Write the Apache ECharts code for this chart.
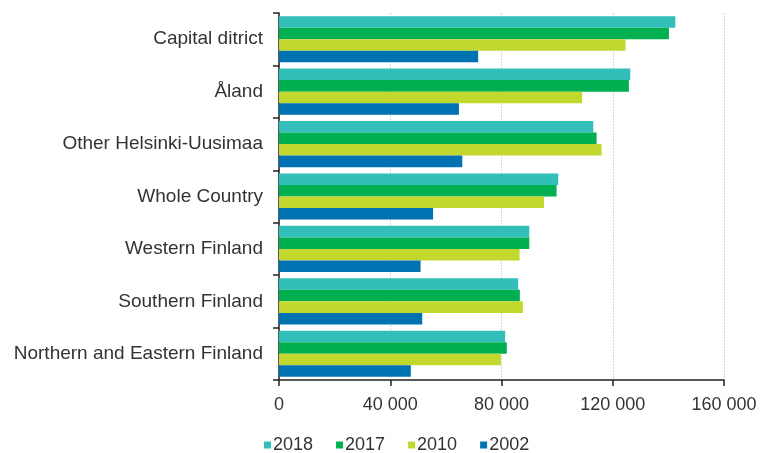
<!DOCTYPE html>
<html>
<head>
<meta charset="utf-8">
<script src="https://cdn.jsdelivr.net/npm/echarts@6/dist/echarts.min.js"></script>
<style>
  html, body { margin: 0; padding: 0; background: #fff; }
  #chart { width: 762px; height: 453px; }
</style>
</head>
<body>
<div id="chart"></div>
<script>
// Catégories (haut -> bas)
const regions = [
  'Capital ditrict',
  'Åland',
  'Other Helsinki-Uusimaa',
  'Whole Country',
  'Western Finland',
  'Southern Finland',
  'Northern and Eastern Finland'
];

const years = ['2018', '2017', '2010', '2002'];

const v2018 = [142500, 126300, 113000, 100400, 90000, 86000, 81300];
const v2017 = [140200, 125800, 114200, 99800, 90000, 86600, 81900];
const v2010 = [124600, 109000, 116000, 95300, 86500, 87700, 79800];
const v2002 = [71600, 64700, 65900, 55400, 50900, 51500, 47400];

const colors = ['#33bfb9', '#00af50', '#c3d82e', '#0072b2'];

const chart = echarts.init(document.getElementById('chart'), null, { renderer: 'canvas' });

const font = 'Liberation Sans, Arial, sans-serif';

const mkBar = (name, data, color) => ({
  name,
  type: 'bar',
  data,
  barGap: '0%',
  barCategoryGap: '12%',
  itemStyle: { color },
  animation: false
});

chart.setOption({
  backgroundColor: '#fff',
  textStyle: { fontFamily: font },
  grid: { left: 279, right: 38, top: 13, bottom: 73, containLabel: false },
  legend: {
    top: 436,
    left: 264,
    padding: 0,
    itemWidth: 7,
    itemHeight: 7,
    itemGap: 23,
    icon: 'rect',
    textStyle: { fontFamily: font, fontSize: 18, color: '#333', padding: [0, 0, 0, -3] },
    data: years
  },
  xAxis: {
    type: 'value',
    min: 0,
    max: 160000,
    interval: 40000,
    axisLine: { show: true, lineStyle: { color: '#222', width: 1.5 } },
    axisTick: { show: true, length: 6, lineStyle: { color: '#222', width: 1.5 } },
    splitLine: { show: true, lineStyle: { color: '#d6d6d6', width: 1, type: [2, 1] } },
    axisLabel: {
      fontFamily: font, fontSize: 18, color: '#333', margin: 16,
      formatter: v => String(v).replace(/\B(?=(\d{3})+(?!\d))/g, ' ')
    }
  },
  yAxis: {
    type: 'category',
    inverse: true,
    data: regions,
    axisLine: { show: true, lineStyle: { color: '#222', width: 1.5 } },
    axisTick: { show: true, length: 6, lineStyle: { color: '#222', width: 1.5 } },
    axisLabel: { fontFamily: font, fontSize: 19, color: '#333', margin: 16 }
  },
  series: [
    mkBar('2018', v2018, colors[0]),
    mkBar('2017', v2017, colors[1]),
    mkBar('2010', v2010, colors[2]),
    mkBar('2002', v2002, colors[3])
  ]
});
</script>
</body>
</html>
